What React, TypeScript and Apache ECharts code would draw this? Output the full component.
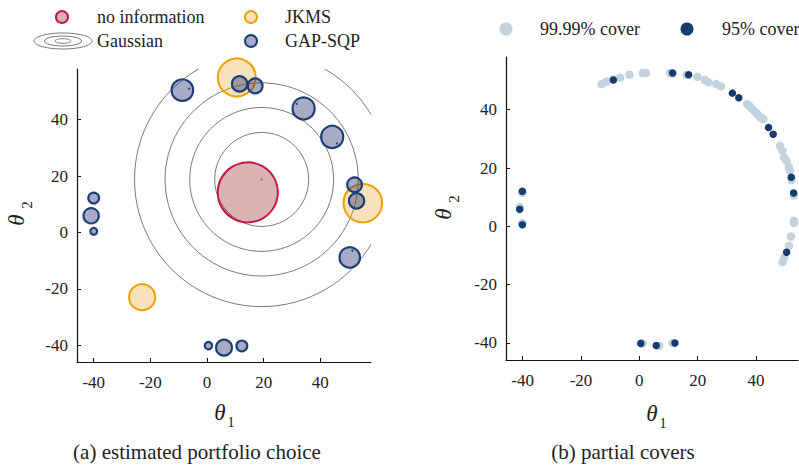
import React, { useEffect, useRef } from "react";
import * as echarts from "echarts";

// ---------- data ----------
const tickValues = [-40, -20, 0, 20, 40];

// Gaussian contour circles: centre and radii (data units)
const gaussianCenter = [19.3, 18.8];
const gaussianRadii = [16.6, 25.4, 34.1, 44.9];

// bubbles: [theta1, theta2, radius]
const noInformation = [[14.4, 14.2, 10.6]];
const jkms = [
  [10.5, 55.0, 6.7],
  [55.0, 10.4, 6.8],
  [-22.9, -23.0, 4.6],
];
const gapSqp = [
  [-8.7, 50.5, 3.8],
  [11.5, 52.7, 2.7],
  [17.0, 52.0, 2.6],
  [34.1, 44.0, 3.9],
  [44.2, 33.9, 3.9],
  [52.1, 16.9, 2.6],
  [52.8, 11.2, 2.7],
  [50.4, -8.9, 3.6],
  [-40.0, 12.2, 1.9],
  [-40.9, 5.9, 2.7],
  [-40.0, 0.4, 1.2],
  [0.5, -40.2, 1.3],
  [6.0, -40.9, 2.8],
  [12.3, -40.3, 1.9],
];
const innerDots = [
  [-6.3, 51.0],
  [31.7, 45.6],
  [45.9, 31.6],
  [51.3, -6.5],
];

// partial covers
const cover9999 = [
  [-12.9, 48.8], [-11.2, 49.7], [-8.9, 50.4], [-6.6, 51.0], [-3.4, 52.0],
  [1.2, 52.6], [2.3, 52.6], [10.5, 52.6], [11.4, 52.4], [16.2, 52.0],
  [19.9, 51.3], [22.5, 50.2], [23.7, 49.4], [26.4, 48.8], [28.0, 48.0],
  [37.0, 41.9], [37.8, 41.2], [38.6, 40.4], [39.4, 39.6], [40.2, 38.8],
  [41.0, 37.9], [41.8, 37.1], [42.5, 36.8],
  [48.2, 27.6], [49.1, 25.9], [49.6, 23.6], [50.5, 22.4], [51.3, 20.2],
  [51.6, 19.1], [52.2, 15.9], [53.0, 10.6],
  [53.0, 1.9], [53.0, 1.2], [52.0, -3.5], [51.3, -6.7], [49.7, -10.8], [49.1, -12.3],
  [-40.1, 11.5], [-41.0, 6.6], [-40.1, 1.1],
  [1.2, -40.2], [6.8, -41.0], [11.4, -40.1],
];
const cover95 = [
  [-8.9, 50.2], [11.4, 52.6], [16.9, 52.0], [31.9, 45.7], [34.1, 44.1],
  [44.3, 33.9], [45.9, 31.6], [52.1, 16.8], [52.9, 11.4], [50.5, -8.9],
  [-40.1, 12.0], [-41.0, 5.8], [-40.1, 0.5],
  [0.5, -40.2], [5.8, -40.9], [12.2, -40.1],
];

// ---------- styles ----------
const FONT = "Liberation Serif";
const TXT = "#222";
const RED_STROKE = "#C2184A";
const RED_FILL = "rgba(155,55,50,0.38)";
const ORANGE_STROKE = "#F0A000";
const ORANGE_FILL = "rgba(235,160,30,0.3)";
const NAVY_STROKE = "#1D3F78";
const NAVY_FILL = "rgba(35,45,110,0.4)";
const LIGHT = "#C3D2DF";
const DARK = "#163B70";

function circleRenderer(fill: string, stroke: string, lineWidth: number) {
  return (_params: any, api: any) => {
    const c = api.coord([api.value(0), api.value(1)]);
    const r = api.size([api.value(2), 0])[0];
    return {
      type: "circle",
      shape: { cx: c[0], cy: c[1], r },
      style: { fill, stroke, lineWidth },
    };
  };
}

function dotRenderer(fill: string, r: number) {
  return (_params: any, api: any) => {
    const c = api.coord([api.value(0), api.value(1)]);
    return { type: "circle", shape: { cx: c[0], cy: c[1], r }, style: { fill } };
  };
}

function valueAxis(gridIndex: number, min: number, max: number, isY: boolean) {
  return {
    type: "value",
    gridIndex,
    min,
    max,
    splitLine: { show: false },
    axisLine: { show: true, onZero: false, lineStyle: { color: "#111", width: 1.2 } },
    axisTick: { show: true, inside: true, length: 4, customValues: tickValues, lineStyle: { color: "#111" } },
    axisLabel: {
      customValues: tickValues,
      fontFamily: FONT,
      fontSize: 17,
      color: TXT,
      margin: isY ? 9 : 12,
    },
  };
}

function theta(x: number, y: number, sub: string, sx: number, sy: number, rot = 0) {
  return [
    {
      type: "text",
      x,
      y,
      rotation: rot,
      style: { text: "θ", fontFamily: FONT, fontStyle: "italic", fontSize: 23, fill: TXT, align: "center", verticalAlign: "middle" },
    },
    {
      type: "text",
      x: sx,
      y: sy,
      rotation: rot,
      style: { text: sub, fontFamily: FONT, fontSize: 15, fill: TXT, align: "center", verticalAlign: "middle" },
    },
  ];
}

function legendText(x: number, y: number, text: string) {
  return {
    type: "text",
    x,
    y,
    style: { text, fontFamily: FONT, fontSize: 18, fill: TXT, align: "left", verticalAlign: "middle" },
  };
}

export default function App() {
  const ref = useRef<HTMLDivElement>(null);

  useEffect(() => {
    if (!ref.current) return;
    const chart = echarts.init(ref.current, null, { renderer: "svg" });

    const contours = gaussianRadii.map((r) => [gaussianCenter[0], gaussianCenter[1], r]);

    const option: any = {
      animation: false,
      backgroundColor: "#fff",
      textStyle: { fontFamily: FONT },
      grid: [
        { left: 77, top: 69, width: 294, height: 293 },
        { left: 506, top: 57, width: 292, height: 303 },
      ],
      xAxis: [valueAxis(0, -45.9, 57.9, false), valueAxis(1, -45.7, 54.4, false)],
      yAxis: [valueAxis(0, -46.0, 58.0, true), valueAxis(1, -45.9, 58.1, true)],
      series: [
        {
          type: "custom",
          name: "Gaussian",
          xAxisIndex: 0,
          yAxisIndex: 0,
          clip: true,
          z: 1,
          encode: { x: 0, y: 1 },
          data: contours,
          renderItem: circleRenderer("none", "#7a7a7a", 1),
        },
        {
          type: "custom",
          name: "Gaussian mean",
          xAxisIndex: 0,
          yAxisIndex: 0,
          z: 5,
          encode: { x: 0, y: 1 },
          data: [gaussianCenter],
          renderItem: dotRenderer("#888", 1.3),
        },
        {
          type: "custom",
          name: "no information",
          xAxisIndex: 0,
          yAxisIndex: 0,
          z: 2,
          encode: { x: 0, y: 1 },
          data: noInformation,
          renderItem: circleRenderer(RED_FILL, RED_STROKE, 2),
        },
        {
          type: "custom",
          name: "JKMS",
          xAxisIndex: 0,
          yAxisIndex: 0,
          z: 3,
          encode: { x: 0, y: 1 },
          data: jkms,
          renderItem: circleRenderer(ORANGE_FILL, ORANGE_STROKE, 2),
        },
        {
          type: "custom",
          name: "GAP-SQP",
          xAxisIndex: 0,
          yAxisIndex: 0,
          z: 4,
          encode: { x: 0, y: 1 },
          data: gapSqp,
          renderItem: circleRenderer(NAVY_FILL, NAVY_STROKE, 2.2),
        },
        {
          type: "custom",
          name: "true",
          xAxisIndex: 0,
          yAxisIndex: 0,
          z: 5,
          encode: { x: 0, y: 1 },
          data: innerDots,
          renderItem: dotRenderer(NAVY_STROKE, 1),
        },
        {
          type: "scatter",
          name: "99.99% cover",
          xAxisIndex: 1,
          yAxisIndex: 1,
          symbolSize: 8.5,
          itemStyle: { color: LIGHT, opacity: 1 },
          data: cover9999,
          z: 2,
        },
        {
          type: "scatter",
          name: "95% cover",
          xAxisIndex: 1,
          yAxisIndex: 1,
          symbolSize: 7.5,
          itemStyle: { color: DARK, opacity: 1 },
          data: cover95,
          z: 3,
        },
      ],
      graphic: [
        // left legend
        { type: "circle", shape: { cx: 62, cy: 17, r: 6 }, style: { fill: RED_FILL, stroke: RED_STROKE, lineWidth: 2 } },
        legendText(97, 17, "no information"),
        { type: "ellipse", shape: { cx: 63, cy: 41, rx: 29, ry: 8 }, style: { fill: "none", stroke: "#777", lineWidth: 1 } },
        { type: "ellipse", shape: { cx: 63, cy: 41, rx: 18.5, ry: 5 }, style: { fill: "none", stroke: "#777", lineWidth: 1 } },
        { type: "ellipse", shape: { cx: 63, cy: 41, rx: 8, ry: 2.3 }, style: { fill: "none", stroke: "#777", lineWidth: 1 } },
        legendText(97, 41, "Gaussian"),
        { type: "circle", shape: { cx: 251, cy: 17, r: 6 }, style: { fill: ORANGE_FILL, stroke: ORANGE_STROKE, lineWidth: 2 } },
        legendText(285, 17, "JKMS"),
        { type: "circle", shape: { cx: 251, cy: 41, r: 6 }, style: { fill: NAVY_FILL, stroke: NAVY_STROKE, lineWidth: 2 } },
        legendText(285, 41, "GAP-SQP"),
        // right legend
        { type: "circle", shape: { cx: 506, cy: 29, r: 6.5 }, style: { fill: LIGHT } },
        legendText(540, 29, "99.99% cover"),
        { type: "circle", shape: { cx: 687, cy: 29, r: 6.5 }, style: { fill: DARK } },
        legendText(722, 29, "95% cover"),
        // axis names
        ...theta(220, 412, "1", 231, 422),
        ...theta(16, 220, "2", 27, 205, Math.PI / 2),
        ...theta(652, 413, "1", 663, 423),
        ...theta(443, 214, "2", 454, 199, Math.PI / 2),
        // captions
        {
          type: "text",
          x: 197,
          y: 452,
          style: { text: "(a) estimated portfolio choice", fontFamily: FONT, fontSize: 21, fill: TXT, align: "center", verticalAlign: "middle" },
        },
        {
          type: "text",
          x: 623,
          y: 452,
          style: { text: "(b) partial covers", fontFamily: FONT, fontSize: 21, fill: TXT, align: "center", verticalAlign: "middle" },
        },
      ],
    };

    chart.setOption(option);
    return () => chart.dispose();
  }, []);

  return (
    <div
      ref={ref}
      style={{ position: "absolute", left: 0, top: 0, width: 799, height: 465 }}
    />
  );
}
